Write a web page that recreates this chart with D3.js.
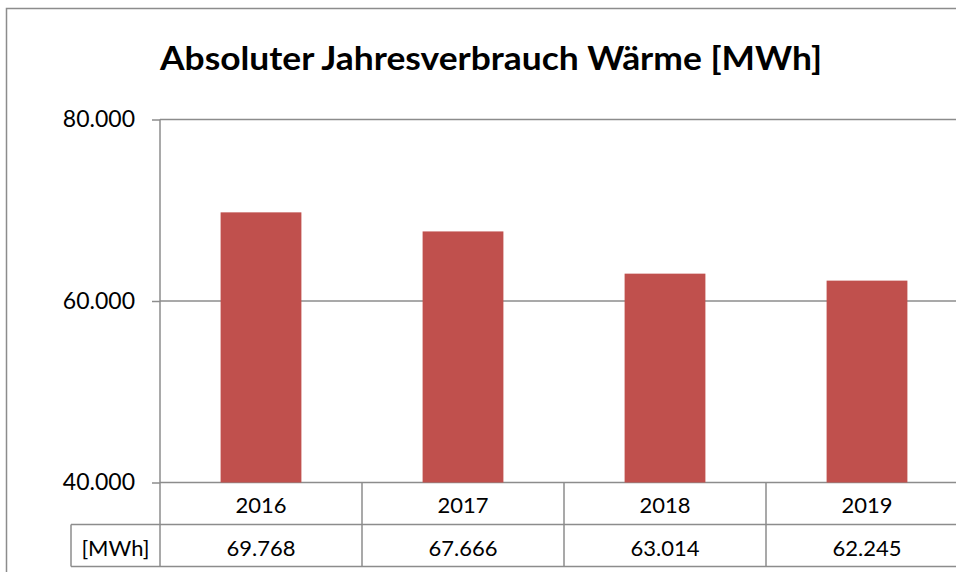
<!DOCTYPE html>
<html>
<head>
<meta charset="utf-8">
<script src="https://cdn.jsdelivr.net/npm/d3@7"></script>
<style>
  html, body { margin: 0; padding: 0; background: #fff; }
  svg { display: block; font-family: Lato, "Open Sans", sans-serif; }
</style>
</head>
<body>
<div id="chart"></div>
<script>
// Absoluter Jahresverbrauch Wärme — column chart with Excel-style data table
const years = ['2016', '2017', '2018', '2019'];
const values = [69768, 67666, 63014, 62245];
const yTicks = [40000, 60000, 80000];
const unitLabel = '[MWh]';
const title = 'Absoluter Jahresverbrauch Wärme [MWh]';

const W = 956, H = 572;
const plot = { left: 160, right: 968, top: 119.5, bottom: 482.5 };
const rowH = 42;
const grid = '#8c8c8c';

const de = d3.formatLocale({ decimal: ',', thousands: '.', grouping: [3], currency: ['', ' €'] });
const fmt = de.format(',.0f');

const svg = d3.select('#chart').append('svg')
  .attr('width', W)
  .attr('height', H);

// outer chart frame (continues past the picture edge)
svg.append('rect')
  .attr('x', 6.5).attr('y', 8.5)
  .attr('width', 1000).attr('height', 700)
  .attr('fill', '#fff')
  .attr('stroke', grid)
  .attr('stroke-width', 1.5);

svg.append('text')
  .attr('x', 491)
  .attr('y', 70)
  .attr('text-anchor', 'middle')
  .attr('font-size', '33px')
  .attr('font-weight', 700)
  .attr('fill', '#000')
  .attr('textLength', 662)
  .attr('lengthAdjust', 'spacingAndGlyphs')
  .text(title);

const x = d3.scaleBand()
  .domain(years)
  .range([plot.left, plot.right])
  .padding(0);

const y = d3.scaleLinear()
  .domain([40000, 80000])
  .range([plot.bottom, plot.top]);

// horizontal gridlines
svg.append('g')
  .selectAll('line')
  .data(yTicks)
  .join('line')
  .attr('x1', plot.left).attr('x2', plot.right)
  .attr('y1', d => y(d)).attr('y2', d => y(d))
  .attr('stroke', grid)
  .attr('stroke-width', 1.5);

// bars — gap width 150%
const barW = x.bandwidth() / 2.5;
svg.append('g')
  .selectAll('rect')
  .data(values)
  .join('rect')
  .attr('x', (d, i) => x(years[i]) + (x.bandwidth() - barW) / 2)
  .attr('y', d => y(d))
  .attr('width', barW)
  .attr('height', d => y(40000) - y(d))
  .attr('fill', '#C0504D');

// y axis
const yAxis = svg.append('g')
  .attr('transform', `translate(${plot.left},0)`)
  .call(d3.axisLeft(y).tickValues(yTicks).tickSize(8).tickPadding(17).tickFormat(fmt));
yAxis.select('.domain').remove();
yAxis.selectAll('line').attr('stroke', grid).attr('stroke-width', 1.5);
yAxis.selectAll('text')
  .attr('font-size', '23px')
  .attr('font-family', 'Lato, sans-serif')
  .attr('fill', '#000');

// data table
const tbl = svg.append('g');
const tTop = plot.bottom, tMid = plot.bottom + rowH, tBot = plot.bottom + 2 * rowH;
const unitLeft = 71;

// vertical axis line down through table
tbl.append('line')
  .attr('x1', plot.left).attr('x2', plot.left)
  .attr('y1', plot.top).attr('y2', tBot)
  .attr('stroke', grid).attr('stroke-width', 1.5);

// column separators
tbl.selectAll('line.col')
  .data(years.slice(1).concat(['end']))
  .join('line')
  .attr('class', 'col')
  .attr('x1', (d, i) => plot.left + (i + 1) * x.bandwidth())
  .attr('x2', (d, i) => plot.left + (i + 1) * x.bandwidth())
  .attr('y1', tTop).attr('y2', tBot)
  .attr('stroke', grid).attr('stroke-width', 1.5);

tbl.append('line')
  .attr('x1', unitLeft).attr('x2', plot.right)
  .attr('y1', tMid).attr('y2', tMid)
  .attr('stroke', grid).attr('stroke-width', 1.5);
tbl.append('line')
  .attr('x1', unitLeft).attr('x2', plot.right)
  .attr('y1', tBot).attr('y2', tBot)
  .attr('stroke', grid).attr('stroke-width', 1.5);
tbl.append('line')
  .attr('x1', unitLeft).attr('x2', unitLeft)
  .attr('y1', tMid).attr('y2', tBot)
  .attr('stroke', grid).attr('stroke-width', 1.5);

tbl.selectAll('text.year')
  .data(years)
  .join('text')
  .attr('class', 'year')
  .attr('x', d => x(d) + x.bandwidth() / 2)
  .attr('y', tTop + 30)
  .attr('text-anchor', 'middle')
  .attr('font-size', '22px')
  .attr('fill', '#000')
  .text(d => d);

tbl.selectAll('text.val')
  .data(values)
  .join('text')
  .attr('class', 'val')
  .attr('x', (d, i) => x(years[i]) + x.bandwidth() / 2)
  .attr('y', tMid + 31)
  .attr('text-anchor', 'middle')
  .attr('font-size', '22px')
  .attr('fill', '#000')
  .text(d => fmt(d));

tbl.append('text')
  .attr('x', (unitLeft + plot.left) / 2)
  .attr('y', tMid + 31)
  .attr('text-anchor', 'middle')
  .attr('font-size', '22px')
  .attr('fill', '#000')
  .text(unitLabel);
</script>
</body>
</html>
